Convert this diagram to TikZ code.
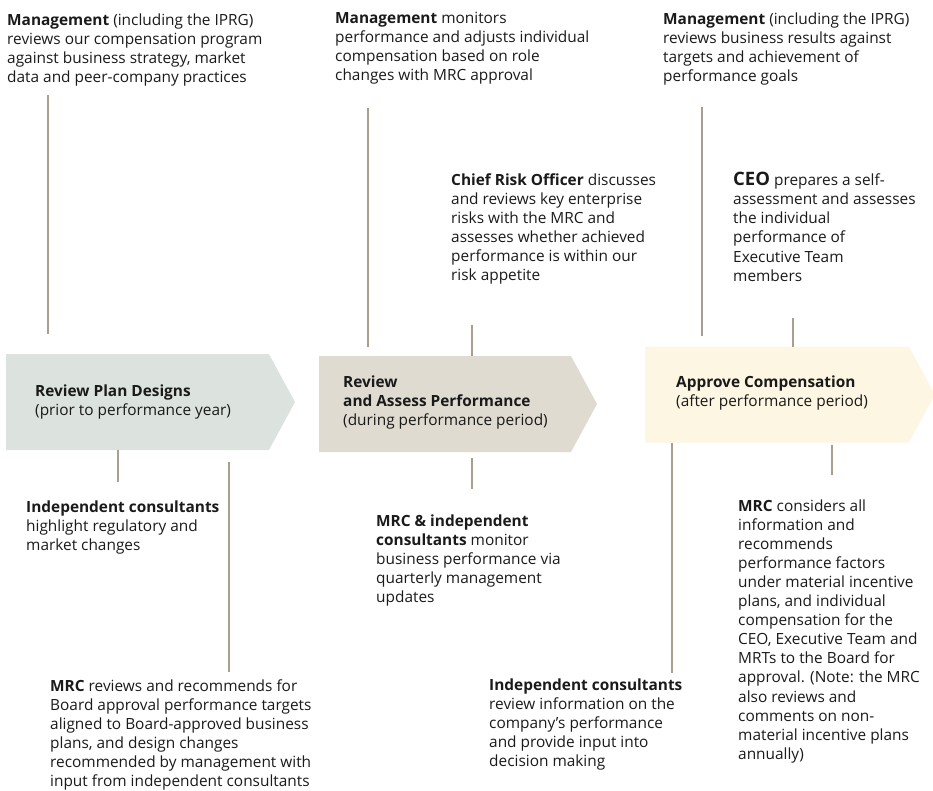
\documentclass[tikz,border=0pt]{standalone}
\usepackage{fontspec}
\setmainfont{Open Sans}
\definecolor{cpInk}{HTML}{1A1A1A}
\definecolor{cpRule}{HTML}{A89F8F}
\definecolor{cpPlan}{HTML}{DCE3DE}
\definecolor{cpAssess}{HTML}{DFDBD1}
\definecolor{cpApprove}{HTML}{FDF6E2}
\usetikzlibrary{shapes.symbols}

\begin{document}
\begin{tikzpicture}[x=1pt,y=-1pt,
                    stage/.style={signal,signal to=east,signal from=nowhere,draw=none,
                                  signal pointer angle=123,minimum height=96pt,
                                  inner sep=0pt,outer sep=0pt},
                    note/.style={anchor=north west,align=left,inner sep=0pt,text=cpInk,
                                 font=\fontsize{15.4}{19.1}\selectfont},
                    link/.style={draw=cpRule,line width=2pt}]
  \useasboundingbox (0,0) rectangle (933,790);

  % the three stages
  \node[stage,fill=cpPlan,minimum width=289pt,anchor=west]    (plan)    at (6,402) {};
  \node[stage,fill=cpAssess,minimum width=278pt,anchor=west]  (assess)  at (319,404) {};
  \node[stage,fill=cpApprove,minimum width=290pt,anchor=west] (approve) at (645,394.5) {};

  \node[note] (planlbl)    at (35,382.5)  {\strut\textbf{Review Plan Designs}\\(prior to performance year)};
  \node[note] (assesslbl)  at (343,373.5) {\strut\textbf{Review}\\\textbf{and Assess Performance}\\(during performance period)};
  \node[note] (approvelbl) at (676,373.5) {\strut\textbf{Approve Compensation}\\(after performance period)};

  % notes above the stages
  \node[note] (mgmtplan) at (7,11.5) {\strut\textbf{Management} (including the IPRG)\\reviews our compensation program\\against business strategy, market\\data and peer-company practices};
  \node[note] (mgmtassess) at (335,9.5) {\strut\textbf{Management} monitors\\performance and adjusts individual\\compensation based on role\\changes with MRC approval};
  \node[note] (mgmtapprove) at (663,10.5) {\strut\textbf{Management} (including the IPRG)\\reviews business results against\\targets and achievement of\\performance goals};
  \node[note] (cro) at (451,171.5) {\strut\textbf{Chief Risk Officer} discusses\\and reviews key enterprise\\risks with the MRC and\\assesses whether achieved\\performance is within our\\risk appetite};
  \node[note] (ceo) at (733,172) {\strut{\fontsize{18.5}{19}\selectfont\bfseries CEO} prepares a self-\\assessment and assesses\\the individual\\performance of\\Executive Team\\members};

  % notes below the stages
  \node[note] (consultplan) at (26,498.5) {\strut\textbf{Independent consultants}\\highlight regulatory and\\market changes};
  \node[note] (mrcplan) at (50,677.5) {\strut\textbf{MRC} reviews and recommends for\\Board approval performance targets\\aligned to Board-approved business\\plans, and design changes\\recommended by management with\\input from independent consultants};
  \node[note] (mrcassess) at (376,512.5) {\strut\textbf{MRC \& independent}\\\textbf{consultants} monitor\\business performance via\\quarterly management\\updates};
  \node[note] (consultapprove) at (489,677) {\strut\textbf{Independent consultants}\\review information on the\\company's performance\\and provide input into\\decision making};
  \node[note] (mrcapprove) at (738,497.5) {\strut\textbf{MRC} considers all\\information and\\recommends\\performance factors\\under material incentive\\plans, and individual\\compensation for the\\CEO, Executive Team and\\MRTs to the Board for\\approval. (Note: the MRC\\also reviews and\\comments on non-\\material incentive plans\\annually)};

  % rules joining notes to stages
  \coordinate (r1) at (48,95);
  \coordinate (r2) at (368,108);
  \coordinate (r3) at (472,325);
  \coordinate (r4) at (702,107);
  \coordinate (r5) at (793,318);
  \coordinate (r6) at (118,482);
  \coordinate (r7) at (229,672);
  \coordinate (r8) at (472,489);
  \coordinate (r9) at (672,673);
  \coordinate (r10) at (832,475);
  \draw[link,shorten >=20pt] (r1) -- (r1 |- plan.north);
  \draw[link,shorten >=9pt]  (r2) -- (r2 |- assess.north);
  \draw[link]                (r3) -- (r3 |- assess.north);
  \draw[link,shorten >=11pt] (r4) -- (r4 |- approve.north);
  \draw[link]                (r5) -- (r5 |- approve.north);
  \draw[link]                (r6 |- plan.south) -- (r6);
  \draw[link,shorten <=12pt] (r7 |- plan.south) -- (r7);
  \draw[link,shorten <=6pt]  (r8 |- assess.south) -- (r8);
  \draw[link]                (r9 |- approve.south) -- (r9);
  \draw[link,shorten <=2pt]  (r10 |- approve.south) -- (r10);
\end{tikzpicture}
\end{document}
